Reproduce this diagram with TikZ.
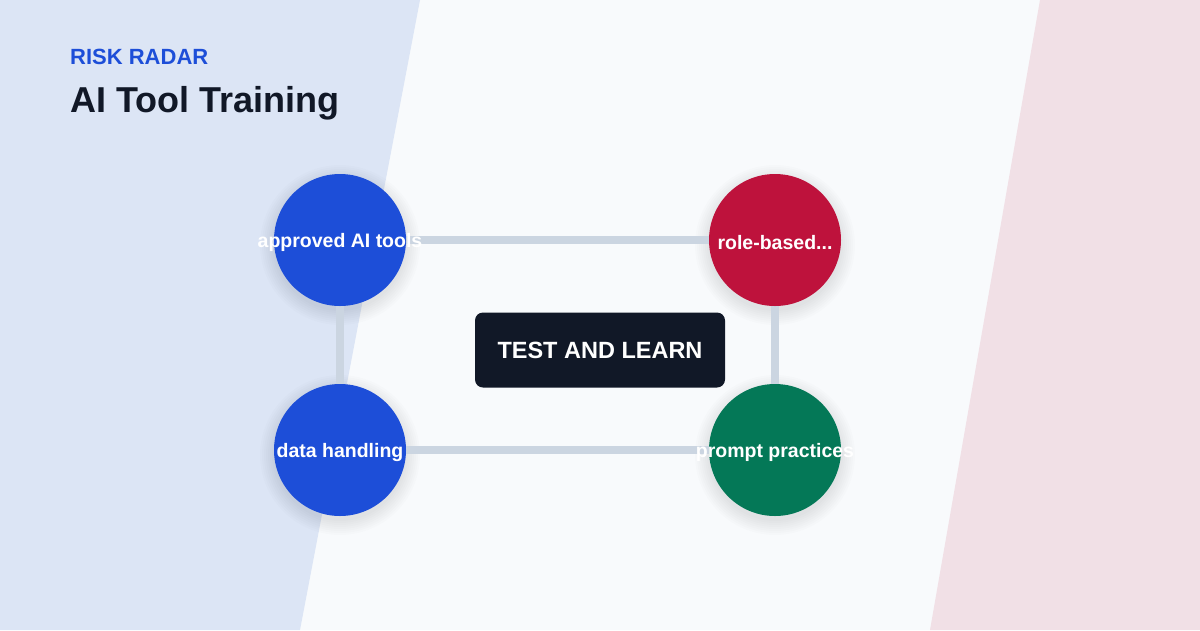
\documentclass[tikz,border=0pt]{standalone}
\usepackage{fontspec}
\setmainfont{Liberation Sans}
\usepackage{xcolor}
\usetikzlibrary{positioning}
\definecolor{pagebg}{HTML}{F8FAFC}
\definecolor{leftbg}{HTML}{DCE5F5}
\definecolor{rightbg}{HTML}{F1E0E6}
\definecolor{brand}{HTML}{1D4ED8}
\definecolor{ink}{HTML}{111827}
\definecolor{hotred}{HTML}{BE123C}
\definecolor{leaf}{HTML}{047857}
\definecolor{rail}{HTML}{CBD5E1}
\pgfdeclarelayer{back}
\pgfdeclarelayer{links}
\pgfsetlayers{back,links,main}

\begin{document}
\begin{tikzpicture}[
  x=1pt, y=-1pt,
  every node/.style={font=\bfseries},
  hub/.style={circle, minimum size=132pt, inner sep=0pt},
  lbl/.style={text=white, yshift=-2.5pt, font=\fontsize{19.5}{23}\selectfont\bfseries},
  core/.style={
    rectangle, rounded corners=8pt, fill=ink, text=white,
    minimum width=250pt, minimum height=75pt,
    font=\fontsize{23.5}{28}\selectfont\bfseries,
  },
  link/.style={draw=rail, line width=8pt},
  haze/.style={fill=black, opacity=0.012},
]
\useasboundingbox (0,0) rectangle (1200,630);

% backdrop
\begin{pgfonlayer}{back}
  \fill[pagebg] (0,0) rectangle (1200,630);
  \fill[leftbg] (0,0) -- (420,0) -- (300,630) -- (0,630) -- cycle;
  \fill[rightbg] (1040,0) -- (1200,0) -- (1200,630) -- (930,630) -- cycle;
\end{pgfonlayer}

% heading
\node[anchor=base west, text=brand, font=\fontsize{22}{26}\selectfont\bfseries, inner sep=0pt]
  (kicker) at (70,64) {RISK RADAR};
\node[anchor=base west, text=ink, font=\fontsize{36}{42}\selectfont\bfseries, inner sep=0pt]
  (title) at (70,112) {AI Tool Training};

% hubs
\node[hub, fill=brand,  label={[lbl]center:approved AI tools}] (tools)  at (340,240) {};
\node[hub, fill=hotred, label={[lbl]center:role-based...}]     (roles)  at (775,240) {};
\node[hub, fill=brand,  label={[lbl]center:data handling}]     (data)   at (340,450) {};
\node[hub, fill=leaf,   label={[lbl]center:prompt practices}]  (prompt) at (775,450) {};

\node[core] (test) at (600,350) {TEST AND LEARN};

% soft shadows + rails
\begin{pgfonlayer}{links}
  \foreach \n in {tools,roles,data,prompt}
    \foreach \r in {66,68,...,80}
      \fill[haze] ([yshift=-5pt]\n.center) circle[radius=\r pt];
  \draw[link] (tools) -- (roles);
  \draw[link] (data)  -- (prompt);
  \draw[link] (tools) -- (data);
  \draw[link] (roles) -- (prompt);
\end{pgfonlayer}
\end{tikzpicture}
\end{document}
